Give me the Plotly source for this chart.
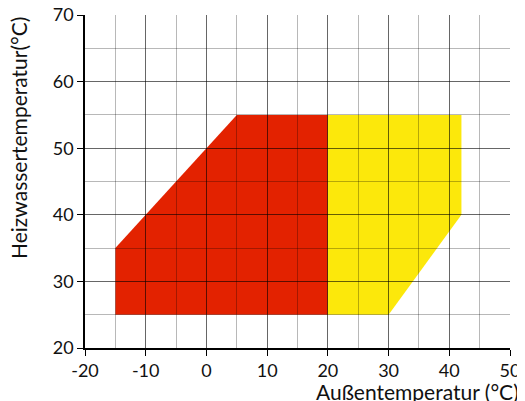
import plotly.graph_objects as go

# Data
red_x = [-15, -15, 5, 20, 20]
red_y = [25, 35, 55, 55, 25]
yellow_x = [20, 20, 42, 42, 30]
yellow_y = [25, 55, 55, 40, 25]

x_ticks = [-20, -10, 0, 10, 20, 30, 40, 50]
x_labels = ["-20", "-10", "0", "10", "20", "30", "40", "50"]
y_ticks = [20, 30, 40, 50, 60, 70]
y_labels = ["20", "30", "40", "50", "60", "70"]

FONT = "Lato"
RED = "#E32200"
YELLOW = "#FCE80B"

fig = go.Figure()
fig.add_trace(go.Scatter(x=red_x, y=red_y, fill="toself", fillcolor=RED,
                         mode="lines", line=dict(width=0), hoverinfo="skip", showlegend=False))
fig.add_trace(go.Scatter(x=yellow_x, y=yellow_y, fill="toself", fillcolor=YELLOW,
                         mode="lines", line=dict(width=0), hoverinfo="skip", showlegend=False))
# empty trace to create grid-overlay subplot
fig.add_trace(go.Scatter(x=[None], y=[None], xaxis="x2", yaxis="y2", showlegend=False, hoverinfo="skip"))

xr = [-20, 50]
yr = [20, 70]

fig.update_layout(
    width=517, height=393,
    margin=dict(l=77, r=15, t=7, b=53, autoexpand=False),
    paper_bgcolor="white", plot_bgcolor="rgba(0,0,0,0)",
    font=dict(family=FONT, color="#111", size=18),
    xaxis=dict(range=xr, tickvals=x_ticks, ticktext=x_labels, showgrid=False, zeroline=False,
               showline=True, linecolor="black", linewidth=1.5, ticks="outside", ticklen=6,
               tickcolor="black", tickfont=dict(size=18), domain=[0, 1], automargin=False,
               ticklabeloverflow="allow", ticklabelstandoff=0),
    yaxis=dict(range=yr, tickvals=y_ticks, ticktext=y_labels, showgrid=False, zeroline=False,
               showline=True, linecolor="black", linewidth=1.5, ticks="outside", ticklen=6,
               tickcolor="black", tickfont=dict(size=18), domain=[0, 1], automargin=False,
               ticklabeloverflow="allow"),
    xaxis2=dict(range=xr, anchor="y2", domain=[0, 1], showticklabels=False, zeroline=False,
                showgrid=True, gridcolor="rgba(0,0,0,0.6)", gridwidth=1, dtick=10, tick0=0,
                minor=dict(showgrid=True, gridcolor="rgba(0,0,0,0.28)", gridwidth=1, dtick=5, tick0=0),
                showline=False, automargin=False),
    yaxis2=dict(range=yr, anchor="x2", domain=[0, 1], showticklabels=False, zeroline=False,
                showgrid=True, gridcolor="rgba(0,0,0,0.6)", gridwidth=1, dtick=10, tick0=0,
                minor=dict(showgrid=True, gridcolor="rgba(0,0,0,0.28)", gridwidth=1, dtick=5, tick0=0),
                showline=False, automargin=False),
)

fig.add_annotation(text="Außentemperatur (°C)", xref="paper", yref="paper", x=1.0, y=0,
                   xanchor="right", yanchor="top", xshift=11, yshift=-29, showarrow=False,
                   font=dict(family=FONT, size=21, color="#111"))
fig.add_annotation(text="Heizwassertemperatur(°C)", xref="paper", yref="paper", x=0, y=1,
                   xanchor="center", yanchor="top", xshift=-67, yshift=0, textangle=-90,
                   showarrow=False, font=dict(family=FONT, size=21, color="#111"))

fig.write_html("out.html")
